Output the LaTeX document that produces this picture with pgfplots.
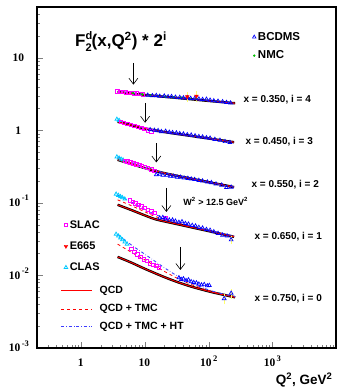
\documentclass[border=0pt]{standalone}
\usepackage{fontspec}
\setmainfont{Liberation Sans}
\newfontfamily\seriffont{Liberation Serif}
\usepackage{pgfplots}
\pgfplotsset{compat=1.18}
\usetikzlibrary{arrows.meta}

\definecolor{cSlac}{RGB}{255,0,255}
\definecolor{cClas}{RGB}{0,200,255}
\definecolor{cNmc}{RGB}{0,190,0}
\definecolor{cErr}{RGB}{255,255,110}
\definecolor{cHt}{RGB}{60,60,255}

\newcommand{\tlab}[2]{{\seriffont\bfseries #1\raisebox{0.5em}[0pt][0pt]{\fontsize{8.5}{8.5}\selectfont\,#2}}}

\pgfplotsset{
  sBcdms/.style={only marks,mark=triangle,mark size=2.2pt,blue,mark options={line width=0.7pt}},
  sSlac/.style={only marks,mark=square,mark size=1.7pt,cSlac,mark options={line width=0.9pt}},
  sClas/.style={only marks,mark=triangle,mark size=2.1pt,cClas,mark options={line width=0.8pt}},
  sNmc/.style={only marks,mark=*,mark size=1.1pt,cNmc},
  sEsixsixfive/.style={only marks,mark=triangle*,mark size=2.1pt,red,mark options={rotate=180}},
  sQcdA/.style={black,line width=2.4pt,smooth,no marks},
  sQcdB/.style={red,line width=0.9pt,smooth,no marks},
  sTmc/.style={red,dashed,line width=0.8pt,smooth,no marks},
  sHt/.style={cHt,dash dot,line width=0.9pt,smooth,no marks},
}

\begin{document}
\begin{tikzpicture}
\begin{axis}[width=299pt,height=341pt,scale only axis,xmode=log,ymode=log,
  xmin=0.2,xmax=10000,ymin=0.001,ymax=50,
  axis line style={line width=1.1pt},
  tick align=inside, tick pos=left,
  major tick length=6pt, minor tick length=3pt,
  xtick={1,10,100,1000},
  xticklabels={\tlab{1}{},\tlab{10}{},\tlab{10}{2},\tlab{10}{3}},
  minor xtick={0.2,0.3,0.4,0.5,0.6,0.7,0.8,0.9,2,3,4,5,6,7,8,9,20,30,40,50,60,70,80,90,200,300,400,500,600,700,800,900,2000,3000,4000,5000,6000,7000,8000,9000},
  ytick={0.001,0.01,0.1,1,10},
  yticklabels={\tlab{10}{-3},\tlab{10}{-2},\tlab{10}{-1},\tlab{1}{},\tlab{10}{}},
  minor ytick={0.002,0.003,0.004,0.005,0.006,0.007,0.008,0.009,0.02,0.03,0.04,0.05,0.06,0.07,0.08,0.09,0.2,0.3,0.4,0.5,0.6,0.7,0.8,0.9,2,3,4,5,6,7,8,9,20,30,40,50},
  xticklabel style={anchor=center,yshift=-15pt,font=\fontsize{11.5}{12}\selectfont},
  yticklabel style={anchor=center,xshift=-18pt,font=\fontsize{11.5}{12}\selectfont},
  xlabel={Q\textsuperscript{2}, GeV\textsuperscript{2}},
  xlabel style={at={(rel axis cs:1,0)},anchor=north east,yshift=-21pt,font=\fontsize{13.5}{14}\selectfont\bfseries},
]
\coordinate (SW) at (rel axis cs:0,0);
% ---------- x = 0.350, i = 4 ----------
\addplot[sQcdA] coordinates {(3.7,3.38)(6,3.20)(10,3.07)(20,2.90)(50,2.69)(100,2.54)(260,2.36)};
\addplot[sQcdB] coordinates {(3.7,3.38)(6,3.20)(10,3.07)(20,2.90)(50,2.69)(100,2.54)(260,2.36)};
\addplot[sTmc] coordinates {(3.7,3.40)(6,3.21)(10,3.07)(20,2.90)(50,2.69)(100,2.54)(260,2.36)};
\addplot[sHt] coordinates {(3.7,3.42)(6,3.22)(10,3.08)(20,2.90)(50,2.69)(100,2.54)(260,2.36)};
\addplot[sSlac] coordinates {(3.7,3.42)(4.1,3.40)(4.5,3.36)(5.0,3.33)(5.5,3.30)(6.1,3.28)(6.8,3.22)(7.5,3.20)(8.3,3.14)(9.2,3.10)};
\addplot[sNmc] coordinates {(6.5,3.25)(9,3.12)(12,3.02)(16,2.96)(21,2.90)(28,2.84)(37,2.80)(50,2.74)(65,2.70)};
\addplot[sBcdms] coordinates {(11,3.05)(13,3.0)(15,3.02)(17,2.95)(20,2.97)(23,2.9)(26,2.92)(30,2.86)(35,2.84)(40,2.8)(46,2.82)(52,2.75)(60,2.74)(70,2.7)(80,2.66)(92,2.68)(105,2.6)(120,2.55)(140,2.52)(165,2.48)(190,2.42)(220,2.38)};
\addplot[cErr,line width=0.8pt,forget plot] coordinates {(46,2.45)(46,3.35)};
\addplot[cErr,line width=0.8pt,forget plot] coordinates {(64,2.45)(64,3.45)};
\addplot[sEsixsixfive] coordinates {(46,2.9)(64,2.95)};
% ---------- x = 0.450, i = 3 ----------
\addplot[sQcdA] coordinates {(3.7,1.31)(6,1.18)(10,1.06)(20,0.947)(50,0.842)(100,0.771)(250,0.686)};
\addplot[sQcdB] coordinates {(3.7,1.31)(6,1.18)(10,1.06)(20,0.947)(50,0.842)(100,0.771)(250,0.686)};
\addplot[sTmc] coordinates {(3.7,1.33)(6,1.19)(10,1.065)(20,0.95)(50,0.843)(100,0.771)(250,0.686)};
\addplot[sHt] coordinates {(3.7,1.37)(6,1.21)(10,1.07)(20,0.952)(50,0.844)(100,0.772)(250,0.686)};
\addplot[sClas] coordinates {(3.6,1.42)(3.9,1.37)};
\addplot[sSlac] coordinates {(4.2,1.30)(4.7,1.26)(5.3,1.22)(6.0,1.19)(6.8,1.15)(7.7,1.12)(8.7,1.08)(9.8,1.05)(11,1.0)(12.5,0.96)};
\addplot[sBcdms] coordinates {(12,1.02)(14,1.0)(16,0.99)(18,0.96)(21,0.97)(24,0.94)(27,0.93)(31,0.92)(35,0.9)(40,0.89)(46,0.87)(53,0.86)(61,0.84)(70,0.82)(80,0.81)(92,0.79)(105,0.78)(125,0.75)(150,0.73)(180,0.7)(215,0.68)};
% ---------- x = 0.550, i = 2 ----------
\addplot[sQcdA] coordinates {(3.7,0.392)(6,0.344)(10,0.301)(20,0.257)(50,0.218)(100,0.193)(250,0.165)};
\addplot[sQcdB] coordinates {(3.7,0.392)(6,0.344)(10,0.301)(20,0.257)(50,0.218)(100,0.193)(250,0.165)};
\addplot[sTmc] coordinates {(3.7,0.41)(6,0.355)(10,0.306)(20,0.259)(50,0.219)(100,0.193)(250,0.165)};
\addplot[sHt] coordinates {(3.7,0.43)(6,0.365)(10,0.31)(20,0.26)(50,0.219)(100,0.193)(250,0.165)};
\addplot[sClas] coordinates {(3.6,0.43)(3.9,0.415)(4.2,0.40)(4.5,0.39)};
\addplot[sSlac] coordinates {(4.8,0.38)(5.3,0.37)(5.9,0.36)(6.6,0.35)(7.3,0.34)(8.1,0.33)(9,0.32)(10,0.31)(11.2,0.30)(12.5,0.29)(14,0.275)};
\addplot[sBcdms] coordinates {(15,0.245)(17,0.248)(19,0.24)(22,0.24)(25,0.233)(28,0.233)(32,0.226)(36,0.226)(41,0.22)(47,0.218)(53,0.213)(60,0.21)(70,0.204)(80,0.2)(95,0.194)(110,0.19)(130,0.182)(160,0.176)(190,0.163)(225,0.165)};
% ---------- x = 0.650, i = 1 ----------
\addplot[sQcdA] coordinates {(3.7,0.094)(6,0.080)(10,0.067)(15,0.059)(30,0.0515)(60,0.045)(120,0.0394)(250,0.034)};
\addplot[sQcdB] coordinates {(3.7,0.094)(6,0.080)(10,0.067)(15,0.059)(30,0.0515)(60,0.045)(120,0.0394)(250,0.034)};
\addplot[sTmc] coordinates {(3.7,0.110)(6,0.092)(10,0.075)(15,0.064)(30,0.054)(60,0.046)(120,0.040)(250,0.0345)};
\addplot[sHt] coordinates {(3.7,0.128)(6,0.103)(10,0.081)(15,0.068)(30,0.056)(60,0.047)(120,0.0405)(250,0.035)};
\addplot[sClas] coordinates {(3.5,0.132)(3.8,0.127)(4.1,0.122)(4.4,0.118)(4.8,0.113)};
\addplot[sSlac] coordinates {(5.8,0.108)(6.4,0.103)(7.1,0.098)(7.9,0.094)(8.8,0.089)(9.8,0.085)(11,0.08)(12.5,0.076)(14,0.072)(21,0.062)};
\addplot[cErr,line width=0.8pt,forget plot] coordinates {(225,0.027)(225,0.035)};
\addplot[sBcdms] coordinates {(17,0.062)(19,0.063)(21,0.06)(24,0.058)(27,0.058)(30,0.056)(34,0.054)(38,0.055)(43,0.052)(48,0.051)(55,0.049)(62,0.048)(70,0.046)(80,0.045)(92,0.043)(105,0.042)(120,0.04)(140,0.038)(165,0.036)(195,0.035)(225,0.031)};
% ---------- x = 0.750, i = 0 ----------
\addplot[sQcdA] coordinates {(3.7,0.018)(6,0.0151)(10,0.0123)(20,0.0095)(35,0.0079)(60,0.0068)(120,0.0058)(260,0.0050)};
\addplot[sQcdB] coordinates {(3.7,0.018)(6,0.0151)(10,0.0123)(20,0.0095)(35,0.0079)(60,0.0068)(120,0.0058)(260,0.0050)};
\addplot[sTmc] coordinates {(3.7,0.027)(6,0.021)(10,0.0163)(20,0.0114)(35,0.0088)(60,0.0072)(120,0.0059)(260,0.0050)};
\addplot[sHt] coordinates {(3.7,0.037)(6,0.0265)(10,0.0195)(20,0.0128)(35,0.0094)(60,0.0075)(120,0.006)(260,0.0051)};
\addplot[sClas] coordinates {(3.5,0.037)(3.8,0.035)(4.1,0.033)(4.4,0.031)(4.8,0.029)(5.2,0.027)};
\addplot[sSlac] coordinates {(6.1,0.023)(6.8,0.021)(7.6,0.0195)(8.5,0.018)(9.5,0.0167)(10.6,0.0157)(12,0.0147)(13.5,0.0139)(15,0.0134)(16.5,0.0128)};
\addplot[cErr,line width=0.8pt,forget plot] coordinates {(175,0.0040)(175,0.0056)};
\addplot[cErr,line width=0.8pt,forget plot] coordinates {(225,0.0048)(225,0.0066)};
\addplot[sBcdms] coordinates {(34,0.0093)(37,0.0088)(40,0.009)(44,0.0085)(48,0.0087)(53,0.0082)(58,0.008)(64,0.0079)(70,0.0076)(77,0.0074)(85,0.0075)(95,0.0072)(102,0.0073)(175,0.0048)(225,0.0057)};
% ---------- legend key lines for the curves ----------
\addplot[red,line width=1pt,forget plot] coordinates {(0.485,0.00611)(1.488,0.00611)};
\addplot[red,dashed,line width=0.9pt,forget plot] coordinates {(0.485,0.00345)(1.488,0.00345)};
\addplot[cHt,dash dot,line width=1pt,forget plot] coordinates {(0.485,0.00195)(1.488,0.00195)};
% ---------- arrows (W^2 > 12.5 GeV^2) ----------
\draw[-{Straight Barb[length=6pt,width=9pt]},line width=0.6pt] (axis cs:6.55,8.5) -- (axis cs:6.55,4.25);
\draw[-{Straight Barb[length=6pt,width=9pt]},line width=0.6pt] (axis cs:10,2.39) -- (axis cs:10,1.27);
\draw[-{Straight Barb[length=6pt,width=9pt]},line width=0.6pt] (axis cs:15,0.66) -- (axis cs:15,0.36);
\draw[-{Straight Barb[length=6pt,width=9pt]},line width=0.6pt] (axis cs:21.6,0.161) -- (axis cs:21.6,0.075);
\draw[-{Straight Barb[length=6pt,width=9pt]},line width=0.6pt] (axis cs:35.8,0.0247) -- (axis cs:35.8,0.0119);
% ---------- texts ----------
\node[anchor=base west,font=\fontsize{17}{18}\selectfont\bfseries,inner sep=0pt] at (rel axis cs:0.127,0.883) {F\rlap{\raisebox{0.45em}{\fontsize{11}{11}\selectfont d}}\raisebox{-0.25em}{\fontsize{11}{11}\selectfont 2}(x,Q\textsuperscript{2}) * 2\textsuperscript{i}};
\node[anchor=west,font=\fontsize{10}{10}\selectfont\bfseries] at (rel axis cs:0.679,0.727) {x = 0.350, i = 4};
\node[anchor=west,font=\fontsize{10}{10}\selectfont\bfseries] at (rel axis cs:0.686,0.6056) {x = 0.450, i = 3};
\node[anchor=west,font=\fontsize{10}{10}\selectfont\bfseries] at (rel axis cs:0.706,0.478) {x = 0.550, i = 2};
\node[anchor=west,font=\fontsize{10}{10}\selectfont\bfseries] at (rel axis cs:0.716,0.3255) {x = 0.650, i = 1};
\node[anchor=west,font=\fontsize{10}{10}\selectfont\bfseries] at (rel axis cs:0.716,0.1437) {x = 0.750, i = 0};
\node[anchor=west,font=\fontsize{9}{9}\selectfont\bfseries] at (rel axis cs:0.478,0.43) {W\textsuperscript{2} > 12.5 GeV\textsuperscript{2}};
\node[anchor=west,inner sep=0pt,font=\fontsize{10.5}{12}\selectfont\bfseries] at (axis cs:1.92,0.00611) {QCD};
\node[anchor=west,inner sep=0pt,font=\fontsize{10.5}{12}\selectfont\bfseries] at (axis cs:1.92,0.00345) {QCD + TMC};
\node[anchor=west,inner sep=0pt,font=\fontsize{10.5}{12}\selectfont\bfseries] at (axis cs:1.92,0.00195) {QCD + TMC + HT};
\end{axis}
% legend: BCDMS / NMC
\begin{axis}[width=299pt,height=341pt,scale only axis,xmode=log,ymode=log,
  xmin=0.2,xmax=10000,ymin=0.001,ymax=50,hide axis,
  legend style={at={(rel axis cs:0.71,0.938)},anchor=north west,draw=none,fill=none,
    font=\fontsize{11.5}{12}\selectfont\bfseries,row sep=5pt},legend cell align=left]
\addlegendimage{sBcdms,mark size=2pt}
\addlegendentry{BCDMS}
\addlegendimage{sNmc,mark size=1pt}
\addlegendentry{NMC}
\end{axis}
% legend: SLAC / E665 / CLAS
\begin{axis}[width=299pt,height=341pt,scale only axis,xmode=log,ymode=log,
  xmin=0.2,xmax=10000,ymin=0.001,ymax=50,hide axis,
  legend style={at={(rel axis cs:0.08,0.386)},anchor=north west,draw=none,fill=none,
    font=\fontsize{11}{12}\selectfont\bfseries,row sep=8pt},legend cell align=left]
\addlegendimage{sSlac}
\addlegendentry{SLAC}
\addlegendimage{sEsixsixfive}
\addlegendentry{E665}
\addlegendimage{sClas}
\addlegendentry{CLAS}
\end{axis}
\pgfresetboundingbox
\path[use as bounding box] (SW) ++(-37pt,-41pt) rectangle ++(339pt,389pt);
\end{tikzpicture}
\end{document}
